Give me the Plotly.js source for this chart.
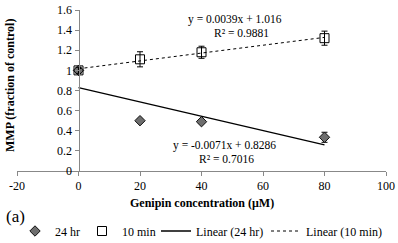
<!DOCTYPE html>
<html><head><meta charset="utf-8">
<script src="https://cdn.plot.ly/plotly-3.0.1.min.js"></script>
<style>html,body{margin:0;padding:0;background:#fff}#c{width:398px;height:243px}</style>
</head><body><div id="c"></div>
<script>
const conc = [0, 20, 40, 80];
const hr24 = [1.0, 0.50, 0.49, 0.335];
const hr24Err = [0.02, 0.015, 0.015, 0.05];
const min10 = [1.0, 1.11, 1.18, 1.32];
const min10Err = [0.03, 0.075, 0.06, 0.07];
const fitX = [0, 80];
const fit24 = {slope: -0.0071, intercept: 0.8286};
const fit10 = {slope: 0.0039, intercept: 1.016};
const xTicks = [-20, 0, 20, 40, 60, 80, 100];
const yTicks = [0, 0.2, 0.4, 0.6, 0.8, 1, 1.2, 1.4, 1.6];

const F = 'Liberation Serif, Times New Roman, serif';
const W = 398, H = 243;
const ML = 17, MT = 10, PW = 369, PH = 161;
const px = v => (v - ML) / PW;          // pixel x -> paper x
const py = v => (MT + PH - v) / PH;     // pixel y -> paper y
const line = f => fitX.map(x => f.slope * x + f.intercept);

const traces = [
  {x: conc, y: hr24, name: '24 hr', type: 'scatter', mode: 'markers', legend: 'legend',
   marker: {symbol: 'diamond', size: 8, color: '#6e6e6e', line: {color: '#111', width: 1}},
   error_y: {type: 'data', array: hr24Err, visible: true, color: '#000', thickness: 1, width: 3}},
  {x: conc, y: min10, name: '10 min', type: 'scatter', mode: 'markers', legend: 'legend2',
   marker: {symbol: 'square-open', size: 9, color: '#000', line: {color: '#000', width: 1}},
   error_y: {type: 'data', array: min10Err, visible: true, color: '#000', thickness: 1, width: 3}},
  {x: fitX, y: line(fit24), name: 'Linear (24 hr)', type: 'scatter', mode: 'lines', legend: 'legend3',
   line: {color: '#000', width: 1.3}},
  {x: fitX, y: line(fit10), name: 'Linear (10 min)', type: 'scatter', mode: 'lines', legend: 'legend4',
   line: {color: '#000', width: 1, dash: 'dot'}}
];

const leg = p => ({orientation: 'h', xref: 'container', yref: 'container',
  x: p / W, y: 1 - 231 / H, xanchor: 'left', yanchor: 'middle',
  font: {family: F, size: 12}, itemwidth: 30, bgcolor: 'rgba(0,0,0,0)', borderwidth: 0});

const layout = {
  width: W, height: H,
  margin: {l: ML, r: W - ML - PW, t: MT, b: H - MT - PH},
  paper_bgcolor: '#fff', plot_bgcolor: '#fff',
  font: {family: F, size: 12, color: '#000'},
  showlegend: true,
  legend: leg(15), legend2: leg(82), legend3: leg(156), legend4: leg(266),
  xaxis: {range: [-20, 100], tickvals: xTicks, ticktext: xTicks.map(String),
          showgrid: false, zeroline: false, showline: true, linecolor: '#888', linewidth: 1,
          ticks: 'outside', ticklen: 4, tickcolor: '#888', tickfont: {family: F, size: 12},
          anchor: 'y', domain: [0, 1], automargin: false},
  yaxis: {range: [0, 1.6], tickvals: yTicks, ticktext: yTicks.map(v => String(v)),
          showgrid: false, zeroline: false, showline: true, linecolor: '#888', linewidth: 1,
          ticks: 'outside', ticklen: 4, tickcolor: '#888', tickfont: {family: F, size: 12},
          anchor: 'free', position: 1/6, automargin: false},
  annotations: [
    {text: '<b>Genipin concentration (μM)</b>', xref: 'paper', yref: 'paper', x: px(202), y: py(202.5),
     xanchor: 'center', yanchor: 'middle', showarrow: false, font: {family: F, size: 12}},
    {text: '<b>MMP (fraction of control)</b>', xref: 'paper', yref: 'paper', x: px(10), y: py(86),
     textangle: -90, xanchor: 'center', yanchor: 'middle', showarrow: false, font: {family: F, size: 12}},
    {text: '(a)', xref: 'paper', yref: 'paper', x: px(4), y: py(216), xanchor: 'left', yanchor: 'middle',
     showarrow: false, font: {family: F, size: 17}},
    {text: 'y = 0.0039x + 1.016', xref: 'x', yref: 'y', x: 51, y: 1.505, showarrow: false,
     font: {family: F, size: 11.5}},
    {text: 'R² = 0.9881', xref: 'x', yref: 'y', x: 53, y: 1.37, showarrow: false,
     font: {family: F, size: 11.5}},
    {text: 'y = -0.0071x + 0.8286', xref: 'x', yref: 'y', x: 47.5, y: 0.25, showarrow: false,
     font: {family: F, size: 11.5}},
    {text: 'R² = 0.7016', xref: 'x', yref: 'y', x: 48, y: 0.12, showarrow: false,
     font: {family: F, size: 11.5}}
  ]
};
Plotly.newPlot('c', traces, layout, {displayModeBar: false, staticPlot: true});
</script></body></html>
